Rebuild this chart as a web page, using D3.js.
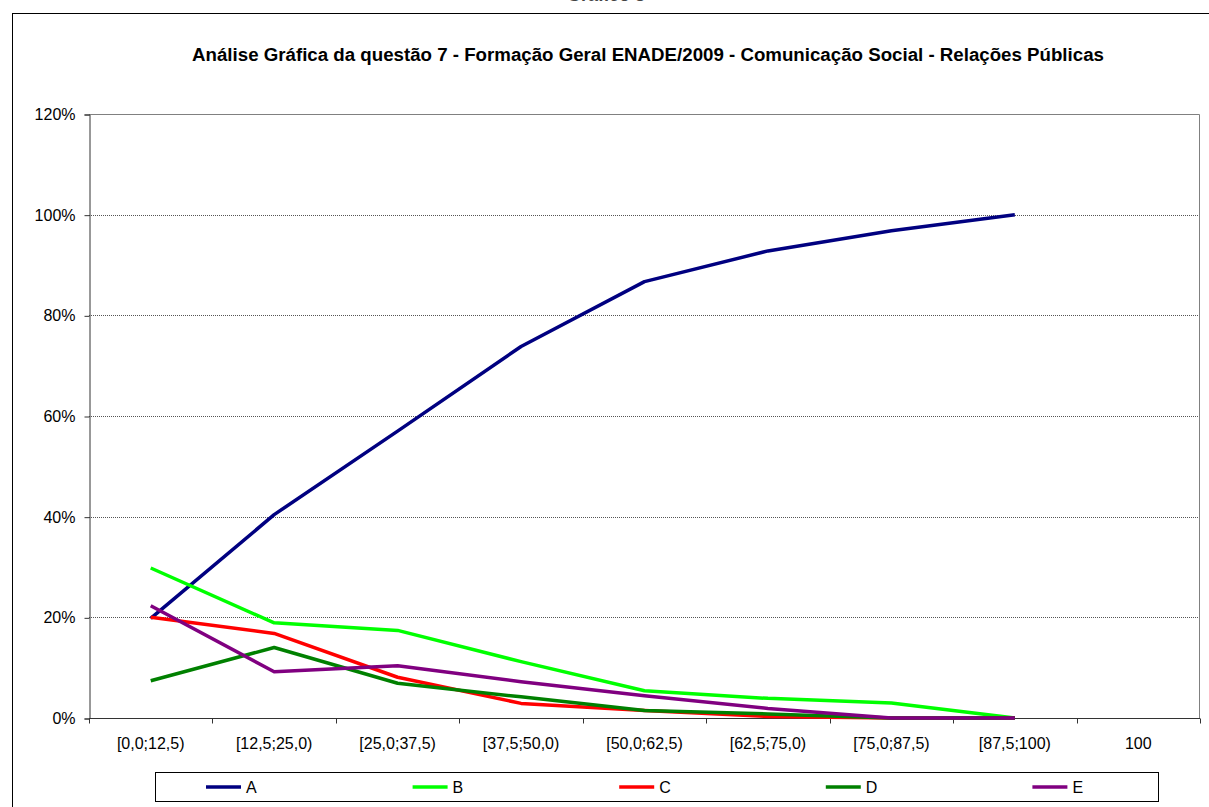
<!DOCTYPE html>
<html>
<head>
<meta charset="utf-8">
<script src="https://cdn.jsdelivr.net/npm/d3@7"></script>
<style>
  body { margin: 0; background: #fff; }
  svg { display: block; font-family: Arial, "Liberation Sans", sans-serif; }
</style>
</head>
<body>
<div class="canvas"></div>
<script>
// data (percent)
const categories = ['[0,0;12,5)', '[12,5;25,0)', '[25,0;37,5)', '[37,5;50,0)',
    '[50,0;62,5)', '[62,5;75,0)', '[75,0;87,5)', '[87,5;100)', '100'];
const seriesA = [19.8, 40.4, 57.0, 73.8, 86.7, 92.8, 96.8, 100];
const seriesB = [29.8, 18.9, 17.4, 11.2, 5.4, 3.9, 3.0, 0];
const seriesC = [20.0, 16.8, 8.1, 2.9, 1.5, 0.3, 0, 0];
const seriesD = [7.4, 14.0, 6.9, 4.2, 1.5, 0.8, 0, 0];
const seriesE = [22.3, 9.2, 10.4, 7.2, 4.4, 1.9, 0, 0];
const yTicks = [0, 20, 40, 60, 80, 100, 120];

const series = [
    { name: 'A', values: seriesA, color: '#000080' },
    { name: 'B', values: seriesB, color: '#00ff00' },
    { name: 'C', values: seriesC, color: '#ff0000' },
    { name: 'D', values: seriesD, color: '#008000' },
    { name: 'E', values: seriesE, color: '#800080' }
];

const svgDims = { width: 1209, height: 807 };
const plot = { left: 89, top: 114, right: 1200, bottom: 718 };
const fontFamily = 'Arial, "Liberation Sans", sans-serif';

const svg = d3.select('.canvas')
    .append('svg')
    .attr('width', svgDims.width)
    .attr('height', svgDims.height);

// outer chart border
svg.append('rect')
    .attr('x', 12.5).attr('y', 13.5)
    .attr('width', 1210).attr('height', 820)
    .attr('fill', '#fff')
    .attr('stroke', '#000')
    .attr('stroke-width', 1);

// heading that sits mostly above the page edge
svg.append('text')
    .attr('x', 606).attr('y', 1)
    .attr('text-anchor', 'middle')
    .attr('font-size', 18)
    .attr('font-weight', 'bold')
    .attr('fill', '#444')
    .text('Gráfico 8');

svg.append('text')
    .attr('x', 648).attr('y', 61)
    .attr('text-anchor', 'middle')
    .attr('font-size', 18.7)
    .attr('font-weight', 'bold')
    .text('Análise Gráfica da questão 7 - Formação Geral ENADE/2009 - Comunicação Social - Relações Públicas');

const x = d3.scaleBand()
    .domain(categories)
    .range([plot.left, plot.right]);

const y = d3.scaleLinear()
    .domain([0, 120])
    .range([plot.bottom, plot.top]);

// gridlines
svg.append('g')
    .selectAll('line')
    .data(yTicks.filter(d => d > 0 && d < 120))
    .enter().append('line')
        .attr('x1', plot.left).attr('x2', plot.right)
        .attr('y1', d => Math.round(y(d)) + 0.5)
        .attr('y2', d => Math.round(y(d)) + 0.5)
        .attr('stroke', '#555')
        .attr('stroke-width', 1)
        .attr('stroke-dasharray', '1,1');

// plot area frame (top, right)
svg.append('path')
    .attr('d', `M${plot.left},${plot.top + 0.5}H${plot.right - 0.5}V${plot.bottom}`)
    .attr('fill', 'none')
    .attr('stroke', '#808080')
    .attr('stroke-width', 1);

// axes
const yAxis = d3.axisLeft(y)
    .tickValues(yTicks)
    .tickSize(5)
    .tickPadding(9)
    .tickFormat(d => `${d}%`);
const yAxisGroup = svg.append('g')
    .attr('transform', `translate(${plot.left + 0.5}, 0.5)`)
    .call(yAxis);

const xAxis = d3.axisBottom(x)
    .tickSize(0)
    .tickPadding(19);
const xAxisGroup = svg.append('g')
    .attr('transform', `translate(0, ${plot.bottom + 0.5})`)
    .call(xAxis);

// x ticks between bands
xAxisGroup.selectAll('.bound')
    .data(d3.range(categories.length + 1))
    .enter().append('line')
        .attr('class', 'bound')
        .attr('x1', i => Math.round(plot.left + i * x.step()) + 0.5)
        .attr('x2', i => Math.round(plot.left + i * x.step()) + 0.5)
        .attr('y1', 0).attr('y2', 5)
        .attr('stroke', '#333');

[yAxisGroup, xAxisGroup].forEach(g => {
    g.select('.domain').attr('stroke', '#333');
    g.selectAll('.tick line').attr('stroke', '#333');
    g.selectAll('text')
        .attr('font-size', 16)
        .attr('font-family', fontFamily)
        .attr('fill', '#000');
});
xAxisGroup.select('.domain').attr('d', `M${plot.left},0H${plot.right}`);

// lines
const line = d3.line()
    .x((d, i) => x(categories[i]) + x.bandwidth() / 2)
    .y(d => y(d));

svg.append('g')
    .selectAll('path')
    .data(series)
    .enter().append('path')
        .attr('fill', 'none')
        .attr('stroke', d => d.color)
        .attr('stroke-width', 3.5)
        .attr('stroke-linejoin', 'round')
        .attr('d', d => line(d.values));

// legend
const legend = svg.append('g');
legend.append('rect')
    .attr('x', 155.5).attr('y', 772.5)
    .attr('width', 1003).attr('height', 29)
    .attr('fill', '#fff')
    .attr('stroke', '#000');

const item = legend.selectAll('.item')
    .data(series)
    .enter().append('g')
        .attr('class', 'item')
        .attr('transform', (d, i) => `translate(${206 + i * 206.6}, 787)`);
item.append('line')
    .attr('x1', 0).attr('x2', 35)
    .attr('stroke', d => d.color)
    .attr('stroke-width', 3.5);
item.append('text')
    .attr('x', 40).attr('y', 6)
    .attr('font-size', 16)
    .text(d => d.name);
</script>
</body>
</html>
